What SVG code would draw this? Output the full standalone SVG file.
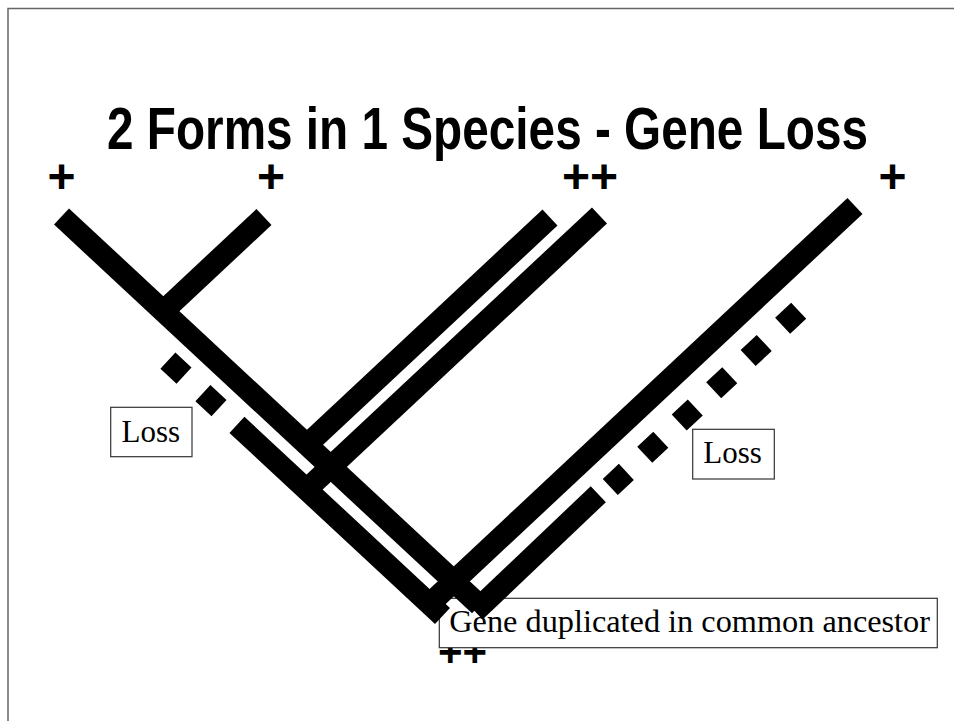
<svg xmlns="http://www.w3.org/2000/svg" width="954" height="721" viewBox="0 0 954 721">
<style>
.bg{fill:#fff}
.frame{fill:none;stroke:#666;stroke-width:1.5}
.title{font-family:"Liberation Sans",Arial,sans-serif;font-weight:bold;font-size:60px;fill:#000}
.plus{font-family:"Liberation Sans",Arial,sans-serif;font-weight:bold;font-size:48px;fill:#000;text-anchor:middle}
.plus2{font-family:"Liberation Sans",Arial,sans-serif;font-weight:bold;font-size:42px;fill:#000}
.box{fill:#fff;stroke:#333;stroke-width:1.2}
.lbl{font-family:"Liberation Serif","Times New Roman",serif;font-size:31px;fill:#000}
.lbl2{font-family:"Liberation Serif","Times New Roman",serif;font-size:32.3px;fill:#000}
.br{stroke:#000;stroke-width:22;stroke-linecap:butt;fill:none}
</style>
<rect class="bg" x="0" y="0" width="954" height="721"/>
<path class="frame" d="M8 721 V8.5 H954"/>
<text class="title" x="107" y="149" textLength="761" lengthAdjust="spacingAndGlyphs">2 Forms in 1 Species - Gene Loss</text>
<g id="tip1"><text class="plus" x="61.5" y="193">+</text></g>
<g id="tip2"><text class="plus" x="271" y="193">+</text></g>
<g id="tip3"><text class="plus" x="590" y="193">++</text></g>
<g id="tip4"><text class="plus" x="892.5" y="193">+</text></g>
<g id="root-plus"><text class="plus2" x="438" y="666">++</text></g>
<g id="loss-left"><rect class="box" x="110.7" y="407.3" width="81.3" height="49.4"/><text class="lbl" x="121.5" y="441.7">Loss</text></g>
<g id="loss-right"><rect class="box" x="692.7" y="429.3" width="81.6" height="49.7"/><text class="lbl" x="703.3" y="463.3">Loss</text></g>
<g id="ancestor"><rect class="box" x="439.3" y="598.3" width="498" height="49.4"/><text class="lbl2" x="449.3" y="631.7">Gene duplicated in common ancestor</text></g>
<g id="connectors">
<line class="br" x1="61.5" y1="216.5" x2="479.5" y2="605.3"/>
<line class="br" x1="264" y1="217" x2="163.3" y2="311.2"/>
<line class="br" x1="167.9" y1="360.6" x2="442.5" y2="616" stroke-dasharray="22 25.8 22 24.5 1000"/>
<line class="br" x1="855" y1="206" x2="429.6" y2="604"/>
<line class="br" x1="798.7" y1="310.7" x2="610.2" y2="487" stroke-dasharray="22 25.2"/>
<line class="br" x1="598.3" y1="494.2" x2="475" y2="611.5"/>
<line class="br" x1="550" y1="217.5" x2="307" y2="444.8"/>
<line class="br" x1="599.5" y1="215.5" x2="306.6" y2="489.5"/>
</g>
</svg>
